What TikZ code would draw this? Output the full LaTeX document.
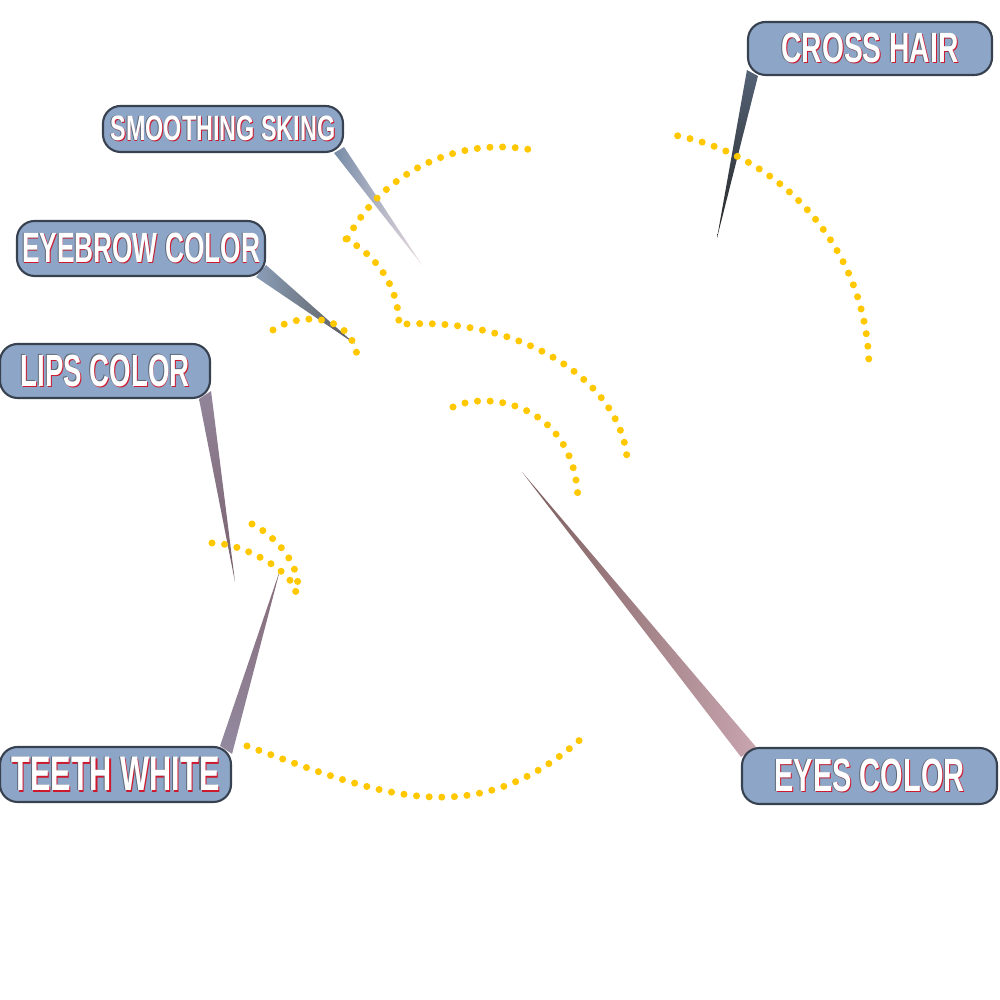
\documentclass[tikz,border=0pt]{standalone}
\usepackage{fontspec}
\setmainfont{Liberation Sans}
\usepackage{graphicx}
\usetikzlibrary{calc, backgrounds}
\definecolor{boxblue}{RGB}{141,165,198}
\definecolor{boxline}{RGB}{55,65,80}
\definecolor{dotgold}{RGB}{255,200,0}
\definecolor{lblred}{RGB}{205,25,45}
\definecolor{lblgray}{RGB}{95,105,120}
\definecolor{mauve}{RGB}{150,120,135}
\definecolor{rosy}{RGB}{200,165,175}
\definecolor{brownish}{RGB}{125,95,95}
\newcommand{\lbltext}[3]{\resizebox{#1}{#2}{\bfseries%
  \makebox[0pt][l]{\kern0.35pt\raisebox{-0.25pt}{\color{lblred}#3}}%
  \makebox[0pt][l]{\kern-0.35pt\raisebox{0.1pt}{\color{lblgray}#3}}%
  \color{white}#3}}

\begin{document}
\begin{tikzpicture}[
  lbl/.style={draw=boxline, line width=0.6pt, fill=boxblue, rounded corners=5pt, inner sep=0pt},
  dots/.style={dotgold, line width=2pt, line cap=round, dash pattern=on 0pt off 3.6pt}]
\useasboundingbox (0,0) rectangle (10,10);

% labels
\node[lbl, minimum width=2.44cm, minimum height=0.53cm] (crosshair) at (8.70,9.515) {\lbltext{1.77cm}{0.30cm}{CROSS HAIR}};
\node[lbl, minimum width=2.40cm, minimum height=0.46cm] (smoothing) at (2.23,8.71) {\lbltext{2.25cm}{0.25cm}{SMOOTHING SKING}};
\node[lbl, minimum width=2.48cm, minimum height=0.55cm] (eyebrow) at (1.41,7.515) {\lbltext{2.38cm}{0.30cm}{EYEBROW COLOR}};
\node[lbl, minimum width=2.10cm, minimum height=0.54cm] (lips) at (1.05,6.29) {\lbltext{1.69cm}{0.32cm}{LIPS COLOR}};
\node[lbl, minimum width=2.31cm, minimum height=0.55cm] (teeth) at (1.155,2.255) {\lbltext{2.08cm}{0.34cm}{TEETH WHITE}};
\node[lbl, minimum width=2.55cm, minimum height=0.56cm] (eyes) at (8.695,2.24) {\lbltext{1.90cm}{0.33cm}{EYES COLOR}};

% pointer tips
\coordinate (tCH) at (7.17,7.62);
\coordinate (tSS) at (4.22,7.35);
\coordinate (tEB) at (3.55,6.56);
\coordinate (tLC) at (2.35,4.18);
\coordinate (tTW) at (2.80,4.30);
\coordinate (tEC) at (5.22,5.28);

\begin{scope}[on background layer]
\fill[white] (0,0) rectangle (10,10);
\shade[top color=boxblue!60!black, bottom color=black!85] ($(crosshair.south west)+(0,0.06)$) -- ($(crosshair.south west)+(0.11,0)$) -- (tCH) -- cycle;
\shade[left color=boxblue!85!black, right color=rosy!40] ($(smoothing.south east)+(-0.10,0)$) -- ($(smoothing.south east)+(0,0.06)$) -- (tSS) -- cycle;
\shade[left color=boxblue!80!gray, right color=black!65] ($(eyebrow.south east)+(-0.10,0)$) -- ($(eyebrow.south east)+(0,0.12)$) -- (tEB) -- cycle;
\shade[top color=mauve!70!boxblue, bottom color=mauve!80!black] ($(lips.south east)+(-0.12,0)$) -- ($(lips.south east)+(0,0.08)$) -- (tLC) -- cycle;
\shade[top color=mauve!90!black, bottom color=mauve!60!boxblue] ($(teeth.north east)+(-0.12,0)$) -- ($(teeth.north east)+(0,-0.08)$) -- (tTW) -- cycle;
\shade[left color=brownish, right color=rosy] ($(eyes.north west)+(0,-0.10)$) -- ($(eyes.north west)+(0.15,0)$) -- (tEC) -- cycle;
\end{scope}

% dotted contours
\draw[dots] (5.00,6.80) ++(152:1.73) arc (152:77:1.73);
\draw[dots] (6.30,6.30) ++(78.5:2.39) arc (78.5:2:2.39);
\draw[dots] (3.46,7.61) .. controls (3.75,7.45) and (4.00,7.15) .. (3.99,6.71);
\draw[dots] (4.07,6.76) .. controls (5.20,6.82) and (6.20,6.20) .. (6.27,5.42);
\draw[dots] (4.53,5.93) .. controls (4.90,6.10) and (5.75,5.95) .. (5.78,5.00);
\draw[dots] (2.73,6.70) .. controls (3.00,6.88) and (3.56,6.88) .. (3.58,6.36);
\draw[dots] (2.12,4.57) .. controls (2.45,4.57) and (3.00,4.25) .. (2.96,4.03);
\draw[dots] (2.52,4.76) .. controls (2.72,4.66) and (2.98,4.40) .. (2.98,4.13);
\draw[dots] (2.47,2.54) .. controls (3.77,2.07) and (4.72,1.64) .. (5.82,2.62);
\end{tikzpicture}
\end{document}
